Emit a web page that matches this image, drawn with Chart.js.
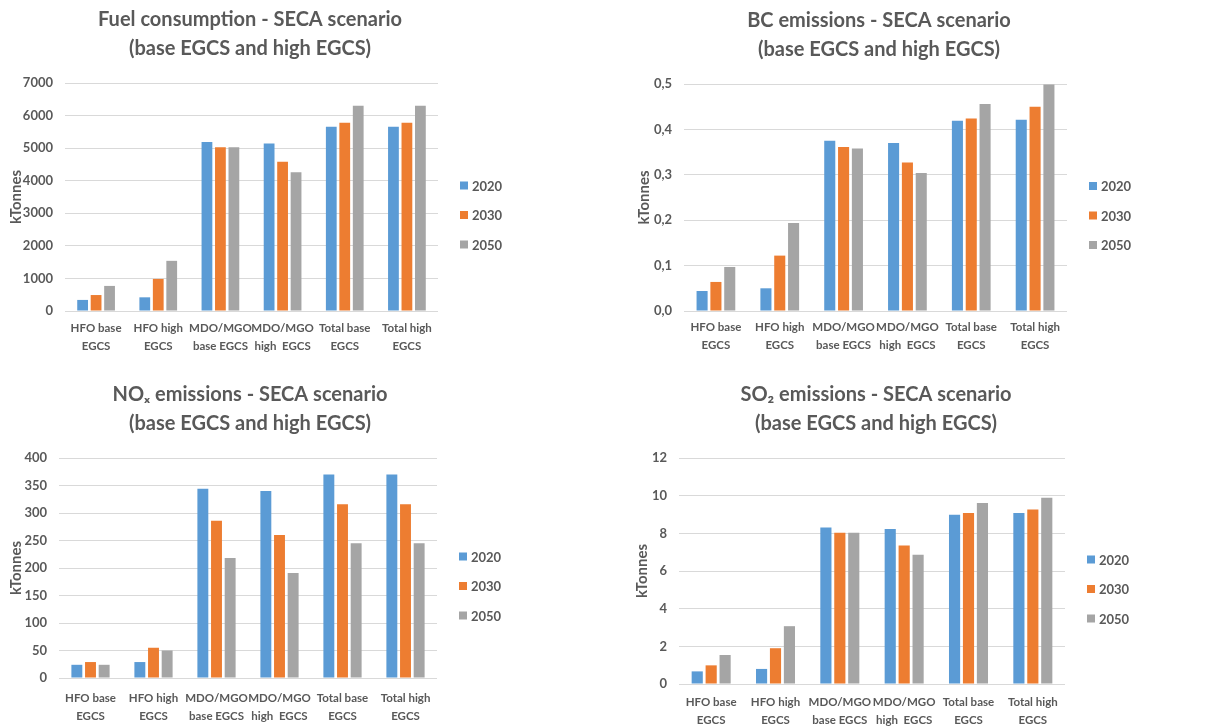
<!DOCTYPE html>
<html lang="en">
<head>
    <meta charset="UTF-8">
    <title>SECA scenario emissions</title>
    <script src="https://cdn.jsdelivr.net/npm/chart.js"></script>
    <style>
        body {
            margin: 0;
            background-color: #ffffff;
        }
        .chart-box {
            position: absolute;
            width: 616px;
        }
    </style>
</head>
<body>
    <div class="chart-box" style="left:0; top:0; height:365px;"><canvas id="fuelChart"></canvas></div>
    <div class="chart-box" style="left:616px; top:0; height:365px;"><canvas id="bcChart"></canvas></div>
    <div class="chart-box" style="left:0; top:365px; height:361px;"><canvas id="noxChart"></canvas></div>
    <div class="chart-box" style="left:616px; top:365px; height:361px;"><canvas id="so2Chart"></canvas></div>

    <script>
        const categories = [
            ['HFO base', 'EGCS'],
            ['HFO high', 'EGCS'],
            ['MDO/MGO', 'base EGCS'],
            ['MDO/MGO', 'high  EGCS'],
            ['Total base', 'EGCS'],
            ['Total high', 'EGCS']
        ];
        const years = ['2020', '2030', '2050'];
        const colors = ['#5B9BD5', '#ED7D31', '#A5A5A5'];

        // Fuel consumption (kTonnes)
        const fuel2020 = [340, 420, 5185, 5145, 5655, 5655];
        const fuel2030 = [490, 985, 5030, 4580, 5780, 5780];
        const fuel2050 = [770, 1540, 5030, 4260, 6300, 6300];

        // BC emissions (kTonnes)
        const bc2020 = [0.044, 0.050, 0.375, 0.370, 0.419, 0.421];
        const bc2030 = [0.064, 0.122, 0.361, 0.327, 0.424, 0.450];
        const bc2050 = [0.097, 0.194, 0.358, 0.304, 0.456, 0.499];

        // NOx emissions (kTonnes)
        const nox2020 = [24, 29, 344, 340, 370, 370];
        const nox2030 = [29, 55, 286, 260, 316, 316];
        const nox2050 = [24, 50, 218, 191, 245, 245];

        // SO2 emissions (kTonnes)
        const so22020 = [0.67, 0.80, 8.31, 8.23, 8.99, 9.08];
        const so22030 = [0.99, 1.90, 8.03, 7.36, 9.08, 9.27];
        const so22050 = [1.54, 3.07, 8.03, 6.86, 9.61, 9.89];

        const textColor = '#595959';
        const fontFamily = 'Lato, "Open Sans", sans-serif';

        // legend drawn to the right of the plot, like the Excel original
        const sideLegend = {
            id: 'sideLegend',
            afterDraw(chart) {
                const ctx = chart.ctx;
                const area = chart.chartArea;
                const x = area.right + 22;
                const yMid = (area.top + area.bottom) / 2 + 18;
                ctx.save();
                ctx.font = 'bold 13px ' + fontFamily;
                ctx.textBaseline = 'middle';
                ctx.textAlign = 'left';
                chart.data.datasets.forEach((ds, i) => {
                    const y = yMid + (i - 1) * 29.5;
                    ctx.fillStyle = ds.backgroundColor;
                    ctx.fillRect(x, y - 4, 8, 8);
                    ctx.fillStyle = textColor;
                    ctx.fillText(ds.label, x + 12, y + 1);
                });
                ctx.restore();
            }
        };

        function makeChart(id, title, series, yMax, yStep, fmt, lay) {
            const ctx = document.getElementById(id).getContext('2d');
            return new Chart(ctx, {
                type: 'bar',
                data: {
                    labels: categories,
                    datasets: series.map((values, i) => ({
                        label: years[i],
                        data: values,
                        backgroundColor: colors[i],
                        categoryPercentage: 0.65,
                        barPercentage: 0.8
                    }))
                },
                options: {
                    responsive: true,
                    maintainAspectRatio: false,
                    animation: false,
                    layout: {
                        padding: { top: lay.top, left: lay.left, right: lay.right, bottom: 0 }
                    },
                    plugins: {
                        legend: { display: false },
                        tooltip: { enabled: false },
                        title: {
                            display: true,
                            text: title,
                            color: textColor,
                            font: { family: fontFamily, size: 20, weight: 'bold', lineHeight: 1.45 },
                            padding: { top: 0, bottom: 20 }
                        }
                    },
                    scales: {
                        x: {
                            grid: { display: false, drawTicks: false },
                            border: { display: false },
                            ticks: {
                                color: textColor,
                                font: { family: fontFamily, size: 11.5, weight: 'bold', lineHeight: 1.5 },
                                padding: lay.tickPad,
                                maxRotation: 0,
                                autoSkip: false
                            },
                            afterFit: scale => { scale.height = lay.xHeight; }
                        },
                        y: {
                            min: 0,
                            max: yMax,
                            border: { display: false },
                            grid: { color: '#D9D9D9', drawTicks: false },
                            ticks: {
                                stepSize: yStep,
                                color: textColor,
                                font: { family: fontFamily, size: 13, weight: 'bold' },
                                padding: 12,
                                callback: v => fmt(v)
                            },
                            title: {
                                display: true,
                                text: 'kTonnes',
                                color: textColor,
                                font: { family: fontFamily, size: 15, weight: 'bold' },
                                padding: 0
                            },
                            afterFit: scale => { scale.width = lay.yWidth; }
                        },
                        // empty strip between plot and legend so the title centres like the original
                        legendGap: {
                            type: 'linear',
                            position: 'right',
                            grid: { display: false },
                            border: { display: false },
                            ticks: { display: false },
                            afterFit: scale => { scale.width = lay.gap; }
                        }
                    }
                },
                plugins: [sideLegend]
            });
        }

        const plain = v => String(Math.round(v));
        const comma = v => v.toFixed(1).replace('.', ',');

        makeChart('fuelChart',
            ['Fuel consumption - SECA scenario', '(base EGCS and high EGCS)'],
            [fuel2020, fuel2030, fuel2050], 7000, 1000, plain,
            { top: 5, left: 7, right: 123, gap: 55, yWidth: 58, xHeight: 54, tickPad: 9 });

        makeChart('bcChart',
            ['BC emissions - SECA scenario', '(base EGCS and high EGCS)'],
            [bc2020, bc2030, bc2050], 0.5, 0.1, comma,
            { top: 6, left: 19, right: 109, gap: 56, yWidth: 49, xHeight: 54, tickPad: 8 });

        makeChart('noxChart',
            ['NOₓ emissions - SECA scenario', '(base EGCS and high EGCS)'],
            [nox2020, nox2030, nox2050], 400, 50, plain,
            { top: 15, left: 7, right: 123, gap: 56, yWidth: 52, xHeight: 48, tickPad: 12 });

        makeChart('so2Chart',
            ['SO₂ emissions - SECA scenario', '(base EGCS and high EGCS)'],
            [so22020, so22030, so22050], 12, 2, plain,
            { top: 15, left: 17, right: 113, gap: 54, yWidth: 46, xHeight: 42, tickPad: 10 });
    </script>
</body>
</html>
